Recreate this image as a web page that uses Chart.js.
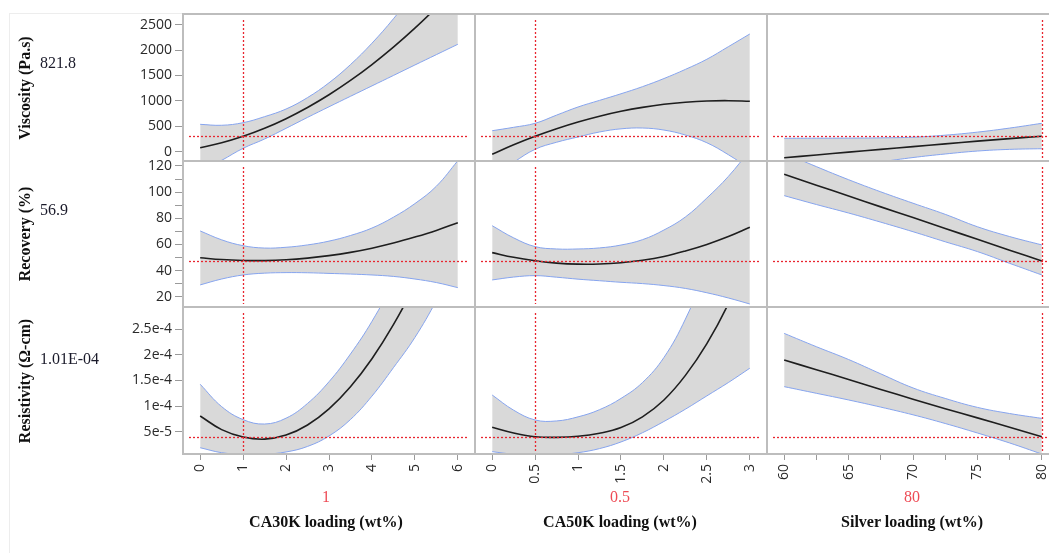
<!DOCTYPE html>
<html><head><meta charset="utf-8">
<script src="https://cdn.jsdelivr.net/npm/chart.js@4.4.1/dist/chart.umd.min.js"></script>
<style>
html,body{margin:0;padding:0;background:#fff;}
#wrap{position:relative;width:1049px;height:553px;overflow:hidden;background:#fff;}
#wrap canvas{position:absolute;}
.ln{position:absolute;background:#bdbdbd;z-index:5;}
.faint{position:absolute;background:#ededed;z-index:1;}
.rowlab{position:absolute;font:bold 16px 'Liberation Serif',serif;color:#111;white-space:nowrap;transform:translate(-50%,-50%) rotate(-90deg);}
.val{position:absolute;font:16px 'Liberation Serif',serif;color:#1a1a2a;transform:translateY(-50%);white-space:nowrap;}
.cur{position:absolute;font:16px 'Liberation Serif',serif;color:#ee4b55;transform:translate(-50%,-50%);white-space:nowrap;}
.ttl{position:absolute;font:bold 16px 'Liberation Serif',serif;color:#111;transform:translate(-50%,-50%);white-space:nowrap;}
</style></head>
<body><div id="wrap"></div>
<script>
// ---------------- DATA ----------------
const factorNames = ['CA30K loading (wt%)', 'CA50K loading (wt%)', 'Silver loading (wt%)'];
const responseNames = ['Viscosity (Pa.s)', 'Recovery (%)', 'Resistivity (\u03A9-cm)'];
const responseValues = ['821.8', '56.9', '1.01E-04'];
const currentXLabels = ['1', '0.5', '80'];
const currentX = [1, 0.5, 80];
const currentY = [300, 47.3, 3.96e-5];

const xCA30K = [0, 0.5, 1, 1.5, 2, 2.5, 3, 3.5, 4, 4.5, 5, 5.5, 6];
const xCA50K = [0, 0.25, 0.5, 0.75, 1, 1.25, 1.5, 1.75, 2, 2.25, 2.5, 2.75, 3];
const xSilver = [60, 62.5, 65, 67.5, 70, 72.5, 75, 77.5, 80];

// Viscosity
const viscCA30K = [79, 175, 303, 461, 650, 870, 1120, 1402, 1715, 2058, 2431, 2836, 3271];
const viscCA30K_lo = [-381, -170, 67, 250, 460, 675, 884, 1090, 1295, 1500, 1706, 1910, 2114];
const viscCA30K_hi = [539, 520, 571, 690, 840, 1065, 1356, 1714, 2135, 2616, 3156, 3762, 4428];
const viscCA50K = [-51, 135, 303, 453, 585, 699, 795, 873, 933, 974, 998, 1004, 992];
const viscCA50K_lo = [-515, -210, 47, 186, 290, 388, 450, 466, 426, 328, 176, -59, -333];
const viscCA50K_hi = [413, 480, 559, 720, 880, 1010, 1140, 1280, 1440, 1620, 1820, 2067, 2317];
const viscSilver = [-118, -64, -9, 45, 99, 154, 208, 258, 305];
const viscSilver_lo = [-500, -394, -290, -200, -115, -45, 13, 46, 59];
const viscSilver_hi = [264, 266, 268, 272, 285, 325, 385, 465, 559];

// Recovery
const recCA30K = [49.8, 48.4, 47.7, 47.6, 48.2, 49.5, 51.4, 53.9, 57.1, 61.0, 65.6, 70.7, 76.6];
const recCA30K_lo = [29.0, 33.5, 36.6, 38.0, 38.4, 38.3, 37.8, 37.3, 36.6, 35.5, 33.5, 30.8, 26.9];
const recCA30K_hi = [70.3, 63.5, 59.0, 57.2, 57.8, 59.6, 62.5, 66.8, 72.5, 80.8, 91.2, 104.5, 124];
const recCA50K = [53.7, 50.1, 47.5, 45.7, 44.9, 45.0, 46.0, 47.9, 50.8, 55.0, 60.0, 66.0, 73.1];
const recCA50K_lo = [32.8, 35.0, 36.1, 34.9, 33.4, 32.2, 31.0, 30.0, 28.5, 26.3, 23.0, 19.0, 14.4];
const recCA50K_hi = [74.3, 65.0, 58.3, 56.5, 56.5, 57.3, 59.5, 63.6, 71.0, 81.0, 95.5, 112, 132];
const recSilver = [113.6, 105.3, 97.0, 88.7, 80.5, 72.2, 63.9, 55.6, 47.3];
const recSilver_lo = [97.3, 90.5, 84, 77, 69.7, 62, 54.5, 45.5, 36.6];
const recSilver_hi = [130, 119.5, 109.5, 100.2, 91.5, 83, 73.5, 66, 59.6];

// Resistivity
const resCA30K = [8.07e-5, 5.40e-5, 3.96e-5, 3.55e-5, 4.34e-5, 6.32e-5, 9.46e-5, 13.78e-5, 19.25e-5, 25.9e-5, 33.7e-5, 42.7e-5, 52.8e-5];
const resCA30K_lo = [1.87e-5, 0.9e-5, 0.56e-5, 0.6e-5, 1.04e-5, 2.12e-5, 4.16e-5, 7.38e-5, 11.95e-5, 17.5e-5, 23.4e-5, 30.6e-5, 38.8e-5];
const resCA30K_hi = [14.27e-5, 9.9e-5, 7.36e-5, 6.5e-5, 7.64e-5, 10.52e-5, 14.76e-5, 20.18e-5, 26.55e-5, 34.3e-5, 44.0e-5, 54.8e-5, 66.8e-5];
const resCA50K = [5.86e-5, 4.75e-5, 4.02e-5, 3.9e-5, 4.1e-5, 4.7e-5, 5.8e-5, 7.9e-5, 11.2e-5, 16.0e-5, 22.2e-5, 30.0e-5, 40e-5];
const resCA50K_lo = [1.1e-5, 0.6e-5, 0.4e-5, 0.5e-5, 0.9e-5, 1.7e-5, 3.0e-5, 4.8e-5, 7.0e-5, 9.4e-5, 12.0e-5, 14.6e-5, 17.4e-5];
const resCA50K_hi = [12.17e-5, 9.2e-5, 7.29e-5, 7.1e-5, 7.9e-5, 9.3e-5, 11.5e-5, 14.6e-5, 19.5e-5, 27e-5, 37e-5, 50e-5, 64e-5];
const resSilver = [19.0e-5, 17.1e-5, 15.2e-5, 13.25e-5, 11.35e-5, 9.5e-5, 7.7e-5, 5.85e-5, 4.0e-5];
const resSilver_lo = [13.8e-5, 12.5e-5, 11.2e-5, 9.8e-5, 8.3e-5, 6.6e-5, 4.75e-5, 2.8e-5, 0.64e-5];
const resSilver_hi = [24.2e-5, 21.6e-5, 19.1e-5, 16.3e-5, 13.55e-5, 11.5e-5, 9.75e-5, 8.55e-5, 7.6e-5];

// ticks
const xTicksCA30K = [0, 1, 2, 3, 4, 5, 6];
const xTickLabelsCA30K = ['0', '1', '2', '3', '4', '5', '6'];
const xTicksCA50K = [0, 0.5, 1, 1.5, 2, 2.5, 3];
const xTickLabelsCA50K = ['0', '0.5', '1', '1.5', '2', '2.5', '3'];
const xTicksSilver = [60, 62.5, 65, 67.5, 70, 72.5, 75, 77.5, 80];
const xTickLabelsSilver = ['60', '', '65', '', '70', '', '75', '', '80'];
const yTicksVisc = [0, 500, 1000, 1500, 2000, 2500];
const yTickLabelsVisc = ['0', '500', '1000', '1500', '2000', '2500'];
const yTicksRec = [20, 30, 40, 50, 60, 70, 80, 90, 100, 110, 120];
const yTickLabelsRec = ['20', '', '40', '', '60', '', '80', '', '100', '', '120'];
const yTicksRes = [5e-5, 1e-4, 1.5e-4, 2e-4, 2.5e-4];
const yTickLabelsRes = ['5e-5', '1e-4', '1.5e-4', '2e-4', '2.5e-4'];

// axis ranges
const xMin = [-0.4, -0.2, 58.667];
const xMax = [6.4, 3.2, 81.333];
const yMin = [-183, 12.1, 6.45e-6];
const yMax = [2710, 123.8, 2.9355e-4];

// ---------------- ASSEMBLY ----------------
const xs = [xCA30K, xCA50K, xSilver];
const xTicks = [xTicksCA30K, xTicksCA50K, xTicksSilver];
const xTickLabels = [xTickLabelsCA30K, xTickLabelsCA50K, xTickLabelsSilver];
const yTicks = [yTicksVisc, yTicksRec, yTicksRes];
const yTickLabels = [yTickLabelsVisc, yTickLabelsRec, yTickLabelsRes];
const series = [
  [[viscCA30K, viscCA30K_lo, viscCA30K_hi], [viscCA50K, viscCA50K_lo, viscCA50K_hi], [viscSilver, viscSilver_lo, viscSilver_hi]],
  [[recCA30K, recCA30K_lo, recCA30K_hi], [recCA50K, recCA50K_lo, recCA50K_hi], [recSilver, recSilver_lo, recSilver_hi]],
  [[resCA30K, resCA30K_lo, resCA30K_hi], [resCA50K, resCA50K_lo, resCA50K_hi], [resSilver, resSilver_lo, resSilver_hi]]
];

const wrap = document.getElementById('wrap');
const colLeft = [183, 475, 767], colW = 292;
const rowTop = [14, 161, 307], rowBot = [161, 307, 454];
const PAD = 10, AXH = 99;
const TICKFONT = {family: "'Open Sans', 'Noto Sans', sans-serif", size: 14};
const TICKCOL = '#2a2a2a';
const BLUE = '#86a4ee', BAND = '#d9d9d9', MEAN = '#1e1e1e', RED = '#e8262f';

const pts = (x, y) => x.map((v, i) => ({x: v, y: y[i]}));

function refLines(r, c) {
  return {
    id: 'ref' + r + c,
    afterDatasetsDraw(chart) {
      const {ctx, chartArea: a, scales} = chart;
      const px = Math.round(scales.x.getPixelForValue(currentX[c])) + 0.5;
      const py = Math.round(scales.y.getPixelForValue(currentY[r])) + 0.5;
      ctx.save();
      ctx.strokeStyle = RED; ctx.lineWidth = 1.3; ctx.setLineDash([2, 2]);
      ctx.beginPath(); ctx.moveTo(px, a.top + 6); ctx.lineTo(px, a.bottom - 3); ctx.stroke();
      ctx.beginPath(); ctx.moveTo(a.left + 6, py); ctx.lineTo(a.right - 6, py); ctx.stroke();
      ctx.restore();
    }
  };
}

for (let r = 0; r < 3; r++) {
  for (let c = 0; c < 3; c++) {
    const x0 = c === 0 ? 0 : colLeft[c];
    const w = c === 0 ? colLeft[0] + colW : colW;
    const top = rowTop[r] - PAD;
    const h = rowBot[r] - rowTop[r] + PAD + (r === 2 ? AXH : PAD);
    const cv = document.createElement('canvas');
    cv.width = w; cv.height = h;
    cv.style.left = x0 + 'px'; cv.style.top = top + 'px';
    cv.style.width = w + 'px'; cv.style.height = h + 'px';
    wrap.appendChild(cv);
    const [m, lo, hi] = series[r][c];
    const showX = r === 2, showY = c === 0;
    new Chart(cv, {
      type: 'line',
      data: {datasets: [
        {data: pts(xs[c], m), borderColor: MEAN, borderWidth: 1.6, pointRadius: 0, fill: false, tension: 0.4},
        {data: pts(xs[c], lo), borderColor: BLUE, borderWidth: 1, pointRadius: 0, fill: false, tension: 0.4},
        {data: pts(xs[c], hi), borderColor: BLUE, borderWidth: 1, pointRadius: 0, fill: 1, backgroundColor: BAND, tension: 0.4}
      ]},
      options: {
        responsive: false, animation: false, devicePixelRatio: 1, events: [],
        layout: {padding: {top: PAD, bottom: showX ? 0 : PAD, left: 0, right: 0}},
        plugins: {legend: {display: false}, tooltip: {enabled: false}, filler: {drawTime: 'beforeDatasetsDraw'}},
        scales: {
          x: {
            type: 'linear', min: xMin[c], max: xMax[c], display: showX,
            afterBuildTicks: s => { s.ticks = xTicks[c].map(v => ({value: v})); },
            afterFit: s => { s.height = showX ? AXH : 0; s.paddingLeft = 0; s.paddingRight = 0; },
            ticks: {autoSkip: false, minRotation: 90, maxRotation: 90, padding: 4, font: TICKFONT, color: TICKCOL,
              callback: (v, i) => xTickLabels[c][i]},
            grid: {drawOnChartArea: false, drawTicks: true, tickLength: 6, color: '#9a9a9a'},
            border: {display: false}
          },
          y: {
            type: 'linear', min: yMin[r], max: yMax[r], display: showY,
            afterBuildTicks: s => { s.ticks = yTicks[r].map(v => ({value: v})); },
            afterFit: s => { s.width = showY ? colLeft[0] : 0; s.paddingTop = 0; s.paddingBottom = 0; },
            ticks: {autoSkip: false, padding: 3, font: TICKFONT, color: TICKCOL,
              callback: (v, i) => yTickLabels[r][i]},
            grid: {drawOnChartArea: false, drawTicks: true, tickLength: 8, color: '#9a9a9a'},
            border: {display: false}
          }
        }
      },
      plugins: [refLines(r, c)]
    });
  }
}

// frame lines
function addDiv(cls, l, t, w, h) {
  const d = document.createElement('div'); d.className = cls;
  d.style.left = l + 'px'; d.style.top = t + 'px'; d.style.width = w + 'px'; d.style.height = h + 'px';
  wrap.appendChild(d);
}
addDiv('faint', 9, 13, 1, 540);
addDiv('faint', 9, 13, 1040, 1);
[14, 161, 307, 454].forEach(y => addDiv('ln', 182, y - 1, 1049 - 182, 2));
[183, 475, 767].forEach(x => addDiv('ln', x - 1, 13, 2, 442));

function addText(cls, txt, l, t) {
  const d = document.createElement('div'); d.className = cls; d.textContent = txt;
  d.style.left = l + 'px'; d.style.top = t + 'px'; wrap.appendChild(d);
}
const rowCenters = [87.5, 234, 380.5];
const valY = [63, 210, 359];
for (let r = 0; r < 3; r++) {
  addText('rowlab', responseNames[r], 25, rowCenters[r]);
  addText('val', responseValues[r], 40, valY[r]);
}
const colCenters = [326, 620, 912];
for (let c = 0; c < 3; c++) {
  addText('cur', currentXLabels[c], colCenters[c], 497);
  addText('ttl', factorNames[c], colCenters[c], 522);
}
</script>
</body></html>
